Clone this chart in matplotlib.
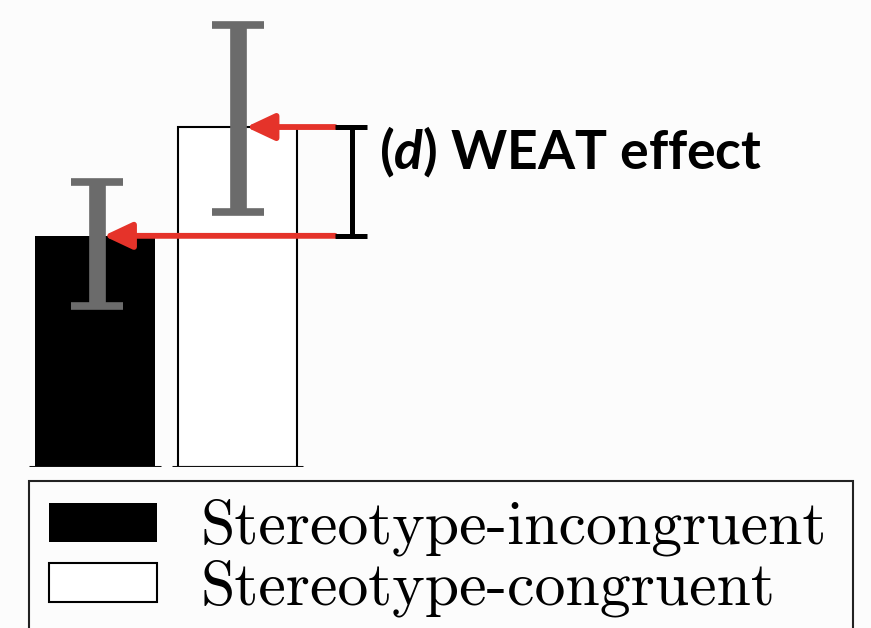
import numpy as np
import matplotlib
matplotlib.use('Agg')
import matplotlib.pyplot as plt
from matplotlib.patches import Rectangle

# data (arbitrary units, schematic)
labels = ['Stereotype-incongruent', 'Stereotype-congruent']
heights = [0.495, 0.728]
err_lo = [0.345, 0.546]
err_hi = [0.610, 0.946]
bar_colors = ['black', 'white']
effect_label = r'($\mathit{d}$) WEAT effect'

plt.rcParams['mathtext.fontset'] = 'custom'
plt.rcParams['mathtext.it'] = 'Lato:italic:bold'
plt.rcParams['mathtext.rm'] = 'Lato:bold'

bg = '#fcfcfc'
fig = plt.figure(figsize=(8.71, 6.28), dpi=100, facecolor=bg)
ax = fig.add_axes([0, 1 - 467/628, 1, 467/628])
ax.set_facecolor(bg)
ax.set_xlim(-95/142.5, (871 - 95)/142.5)
ax.set_ylim(0, 1)
ax.axis('off')

x = np.arange(len(heights))
w = 0.84
bars = []
for i in range(len(heights)):
    b = ax.bar(x[i], heights[i], width=w, color=bar_colors[i], edgecolor='black',
               linewidth=1.5 if bar_colors[i] == 'white' else 0, label=labels[i], zorder=2)
    bars.append(b)
    # baseline under each bar
    ax.hlines(0, x[i] - 0.46, x[i] + 0.46, color='#111111', lw=2.2, zorder=3)

# error bars (asymmetric ranges)
mid = (np.array(err_lo) + np.array(err_hi)) / 2
yerr = [mid - np.array(err_lo), np.array(err_hi) - mid]
ax.errorbar(x + [0.015, 0.0], mid, yerr=yerr, fmt='none', ecolor='#6b6b6b',
            elinewidth=12, capsize=19, capthick=5.5, zorder=4)

# red arrows from the bracket to each bar top
xb = 1.684
for i in range(len(heights)):
    ax.annotate('', xy=(x[i] + 0.06, heights[i]), xytext=(xb, heights[i]),
                arrowprops=dict(arrowstyle='-|>,head_length=0.85,head_width=0.4',
                                color='#e5332a', lw=4.2, mutation_scale=20,
                                shrinkA=0, shrinkB=0), zorder=5)

# black bracket showing the difference
xc = 1.80
ax.vlines(xc, heights[0], heights[1], color='black', lw=3.6, zorder=6)
ax.hlines(heights, xb, xb + 0.225, color='black', lw=3.6, zorder=6)

ax.text(1.99, 0.675, effect_label, fontsize=38.5, family='Lato', weight='bold',
        va='center', ha='left')

# legend
leg = fig.legend(handles=[b for b in bars], loc='upper left',
                 bbox_to_anchor=(49/871, 1 - 499/628), frameon=False,
                 prop={'family': 'cmr10', 'size': 44.5}, handlelength=1.75,
                 handleheight=0.59, handletextpad=0.7, labelspacing=0.05,
                 borderpad=0, borderaxespad=0)
fig.add_artist(Rectangle((29/871, -0.05), (853 - 29)/871, (1 - 481/628) + 0.05,
                         transform=fig.transFigure, fill=False, lw=1.5,
                         ec='#222222'))

fig.savefig('out.png', dpi=100, facecolor=bg)
